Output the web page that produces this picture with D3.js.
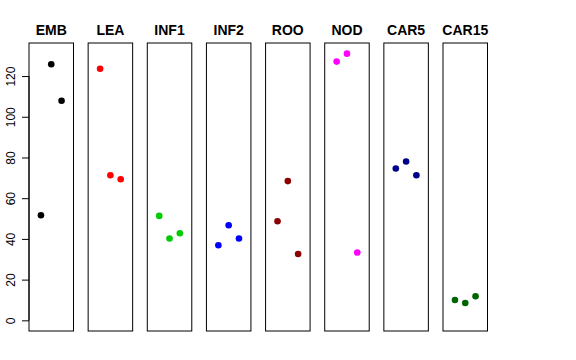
<!DOCTYPE html>
<html>
<head>
<meta charset="utf-8">
<script src="https://cdn.jsdelivr.net/npm/d3@7"></script>
<style>
  html, body { margin: 0; padding: 0; background: #fff; }
  svg { display: block; }
  text { font-family: "Liberation Sans", Arial, Helvetica, sans-serif; }
</style>
</head>
<body>
<svg id="chart" width="576" height="360"></svg>
<script>
// ---- data ----
const categories = ["EMB", "LEA", "INF1", "INF2", "ROO", "NOD", "CAR5", "CAR15"];
const colors = ["#000000", "#FF0000", "#00CD00", "#0000FF", "#8B0000", "#FF00FF", "#00008B", "#006400"];
// three replicate values per tissue (left, middle, right jitter position)
const rep1 = [51.6, 123.6, 51.3, 36.9, 48.7, 127.1, 74.6, 10.0];
const rep2 = [125.8, 71.3, 40.2, 46.7, 68.4, 131.0, 78.0, 8.5];
const rep3 = [107.9, 69.3, 42.8, 40.2, 32.6, 33.3, 71.3, 11.8];
const yTicks = [0, 20, 40, 60, 80, 100, 120];
const yMax = 131;

// ---- layout ----
const svg = d3.select("#chart");
const plotTop = 43, plotBottom = 331;
const ext = yMax * 0.04;
const y = d3.scaleLinear().domain([0 - ext, yMax + ext]).range([plotBottom, plotTop]);
const panel = d3.scaleBand().domain(categories).range([29, 487.5]).paddingInner(0.2476).paddingOuter(0);
const bw = panel.bandwidth();
const x = d3.scaleLinear().domain([2 - 2.16, 2 + 2.16]).range([0, bw]);

categories.forEach((cat, i) => {
  const g = svg.append("g").attr("transform", `translate(${panel(cat)},0)`);
  const vals = [rep1[i], rep2[i], rep3[i]];
  g.selectAll("circle").data(vals).enter().append("circle")
    .attr("cx", (d, j) => x(j + 1))
    .attr("cy", d => y(d))
    .attr("r", 3.3)
    .attr("fill", colors[i]);
  g.append("rect")
    .attr("x", 0).attr("y", plotTop)
    .attr("width", bw).attr("height", plotBottom - plotTop)
    .attr("fill", "none").attr("stroke", "#000").attr("stroke-width", 1);
  g.append("text")
    .attr("x", bw / 2).attr("y", 34.5)
    .attr("text-anchor", "middle")
    .attr("font-weight", "bold")
    .attr("font-size", 14)
    .text(cat);
});

// y axis on first panel
const axisG = svg.append("g").attr("transform", `translate(${panel(categories[0])},0)`);
const yAxis = d3.axisLeft(y).tickValues(yTicks).tickSize(7).tickPadding(6).tickFormat(d3.format("d"));
axisG.call(yAxis);
axisG.select(".domain").attr("d", `M0,${y(0)}V${y(120)}`).attr("stroke", "#000");
axisG.selectAll(".tick line").attr("stroke", "#000");
axisG.selectAll(".tick text")
  .attr("font-size", 12)
  .attr("font-family", "Liberation Sans, Arial, sans-serif")
  .attr("fill", "#000")
  .attr("text-anchor", "middle")
  .attr("x", null).attr("dy", null)
  .attr("transform", "translate(-14,0) rotate(-90)")
  .attr("y", 0);
</script>
</body>
</html>
